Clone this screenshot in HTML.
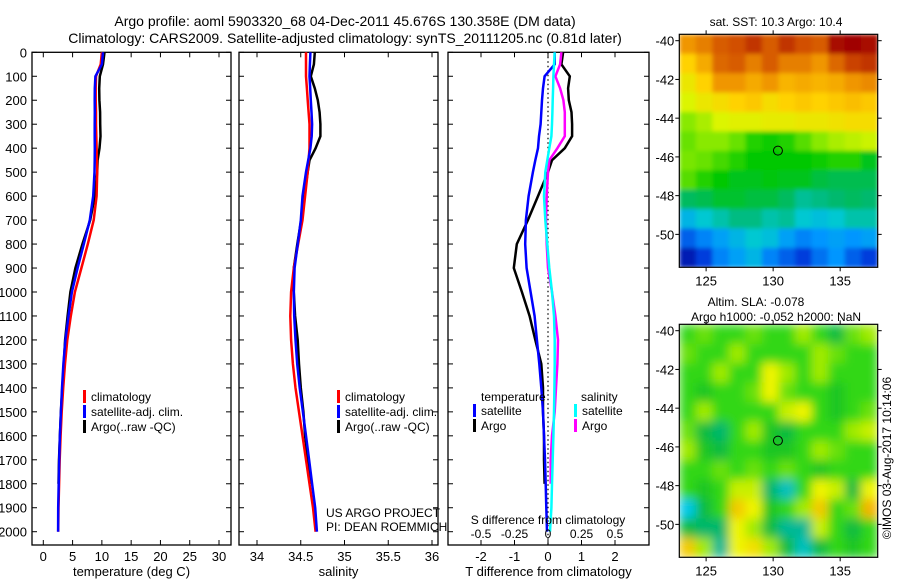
<!DOCTYPE html>
<html><head><meta charset="utf-8"><style>
html,body{margin:0;padding:0;background:#fff;}
svg{display:block;font-family:"Liberation Sans",sans-serif;}
</style></head><body>
<svg id="c" width="900" height="580" viewBox="0 0 900 580">
<defs>
<filter id="blurA" x="-5%" y="-5%" width="110%" height="110%"><feGaussianBlur stdDeviation="2.2" edgeMode="duplicate"/></filter>
<filter id="blurB" x="-5%" y="-5%" width="110%" height="110%"><feGaussianBlur stdDeviation="5" edgeMode="duplicate"/></filter>
<clipPath id="clipA"><rect x="679.3" y="34.3" width="198.4" height="233"/></clipPath>
<clipPath id="clipB"><rect x="679.3" y="324.3" width="198.4" height="233"/></clipPath>
</defs>
<rect width="900" height="580" fill="#fff"/>
<text x="345" y="26" font-size="14" text-anchor="middle">Argo profile: aoml 5903320_68 04-Dec-2011 45.676S 130.358E (DM data)</text>
<text x="345" y="43" font-size="14" text-anchor="middle">Climatology: CARS2009. Satellite-adjusted climatology: synTS_20111205.nc (0.81d later)</text>
<g id="g"></g>
</svg>
<script>
// ---- data ----
const depths = [0,50,100,150,200,250,300,350,400,450,500,600,700,800,900,1000,1100,1200,1300,1400,1500,1600,1700,1800,1900,2000];
const climT = [10.0,9.8,9.0,8.95,8.95,9.0,9.0,9.05,9.1,9.15,9.2,9.1,8.6,7.6,6.5,5.4,4.7,4.1,3.7,3.4,3.15,2.95,2.8,2.7,2.6,2.55];
const climS = [34.56,34.56,34.56,34.57,34.58,34.59,34.60,34.60,34.60,34.59,34.58,34.55,34.52,34.47,34.42,34.39,34.38,34.39,34.41,34.44,34.48,34.52,34.56,34.60,34.64,34.67];
const satTdiff = [0.2,0.2,-0.1,-0.15,-0.18,-0.2,-0.22,-0.27,-0.3,-0.38,-0.45,-0.58,-0.66,-0.68,-0.64,-0.52,-0.4,-0.33,-0.26,-0.2,-0.15,-0.12,-0.09,-0.07,-0.05,-0.03];
const argoTdiff = [0.45,0.4,0.65,0.6,0.62,0.7,0.72,0.72,0.5,0.12,0.0,-0.3,-0.6,-0.93,-1.02,-0.78,-0.55,-0.38,-0.2,-0.15,-0.15,-0.12,-0.12,-0.1,null,null];
const satSdiff = [0.05,0.045,0.04,0.038,0.035,0.033,0.03,0.025,0.01,-0.005,-0.02,-0.03,-0.02,-0.005,0.01,0.03,0.045,0.05,0.05,0.048,0.045,0.04,0.035,0.03,0.025,0.015];
const argoSdiff = [0.1,0.09,0.055,0.09,0.115,0.125,0.125,0.125,0.07,0.01,0,-0.01,-0.015,-0.01,0,0.03,0.055,0.075,0.07,0.06,0.05,0.03,0.02,0.02,null,null];
const depthTicks = [0,100,200,300,400,500,600,700,800,900,1000,1100,1200,1300,1400,1500,1600,1700,1800,1900,2000];
const tTicks = [0,5,10,15,20,25,30];
const sTicks = [34,34.5,35,35.5,36];
const tdTicks = [-2,-1,0,1,2];
const sdTicks = [-0.5,-0.25,0,0.25,0.5];
const sdTickLabels = ["-0.5","-0.25","0","0.25","0.5"];
const lonTicks = [125,130,135];
const latTicks = [-40,-42,-44,-46,-48,-50];
const argoLon = 130.358, argoLat = -45.676;
const sstGrid = [
[12.8,13.0,13.3,13.4,13.6,13.3,13.6,13.4,13.3,13.9,14.0,13.9],
[12.2,12.6,13.2,13.3,13.0,13.3,13.0,13.0,12.8,13.2,13.5,13.6],
[11.8,12.2,12.8,12.8,12.6,12.8,12.5,12.6,12.5,12.6,12.8,12.9],
[11.5,11.8,12.0,12.2,12.3,12.0,12.2,12.3,12.2,12.3,12.4,12.3],
[11.0,11.2,11.5,11.6,11.6,11.7,11.7,11.8,11.8,11.9,12.0,12.0],
[10.8,11.0,11.0,10.8,10.4,10.3,10.4,10.7,11.0,11.2,11.3,11.4],
[10.9,10.8,10.6,10.4,10.2,10.2,10.2,10.2,10.3,10.4,10.4,10.0],
[10.7,10.4,10.2,10.0,10.0,10.1,10.0,10.0,9.8,9.7,9.7,9.7],
[9.6,9.7,9.9,9.9,9.8,9.8,9.6,9.3,9.4,9.5,9.6,9.5],
[8.8,9.0,9.2,9.4,9.4,9.2,9.3,9.0,8.9,9.0,9.2,9.2],
[8.2,8.4,8.6,8.8,9.0,8.9,8.6,8.4,8.5,8.6,8.5,8.6],
[7.8,8.0,8.4,8.6,8.8,8.4,8.2,8.0,8.3,8.5,8.2,8.0]];
const slaGrid = [
[0,0.1,0,0,0.1,0,0,0.2,0,-0.2,0.1,0.2],
[0.1,0,0,0.2,0,0,0,0,0.2,0.1,0,0],
[0,0,0.2,0,0,0.4,0.2,0,0.2,0,0,0],
[0,-0.1,0,0,0.1,0.4,0.1,0,0,-0.1,0,0],
[0,0.2,0,0,0,0,0.3,0.4,0,-0.1,0,0.1],
[0.1,-0.2,-0.3,0,0.2,-0.1,-0.2,0,0,0,0.2,0.3],
[0.2,-0.1,-0.2,0,0,-0.1,-0.1,0,0.2,0.1,0,0],
[0,0,0.1,0,0.1,0,0.1,0,-0.1,0,0,0],
[0,-0.1,0,0.3,0.3,-0.3,-0.5,0,0.4,0.3,-0.2,0.4],
[-0.6,-0.2,0,0.6,0.4,-0.1,0,0.2,0.6,0,0.1,0.7],
[-0.2,-0.3,-0.3,0.4,0.2,-0.2,-0.4,-0.4,0.3,0,-0.2,0],
[0.6,0.2,-0.4,0.4,0.5,0.2,-0.2,-0.5,-0.2,0,-0.1,0]];

const NS="http://www.w3.org/2000/svg";
const G=document.getElementById('g');
function mk(tag,at,parent){const e=document.createElementNS(NS,tag);for(const k in at)e.setAttribute(k,at[k]);(parent||G).appendChild(e);return e;}
function txt(x,y,s,anchor,size,parent){const e=mk('text',{x:x,y:y,'font-size':size||12,'text-anchor':anchor||'start'},parent);e.textContent=s;return e;}

const y0=52.3, yk=0.2397, yBot=545;
const yD=d=>y0+d*yk;

function panel(name,x1,x2,ticks,xf,labels,ttl){
  const g=mk('g',{});
  
  
  mk('rect',{x:x1,y:y0,width:x2-x1,height:yBot-y0,fill:'none',stroke:'#000','stroke-width':1.3},g);
  depthTicks.forEach(d=>{const y=yD(d);mk('line',{x1:x1,x2:x1+5,y1:y,y2:y,stroke:'#000'},g);mk('line',{x1:x2-5,x2:x2,y1:y,y2:y,stroke:'#000'},g);});
  ticks.forEach((t,i)=>{const x=xf(t);mk('line',{x1:x,x2:x,y1:y0,y2:y0+5,stroke:'#000'},g);mk('line',{x1:x,x2:x,y1:yBot-5,y2:yBot,stroke:'#000'},g);
    const l=txt(x,561,labels?labels[i]:String(t),'middle',13,g);});
  const tl=txt((x1+x2)/2,576,ttl,'middle',13,g);
  
  
  return g;
}
function line(vals,xf,color,name,parent){
  let pts=[];
  vals.forEach((v,i)=>{if(v!==null&&!isNaN(v))pts.push(xf(v).toFixed(1)+','+yD(depths[i]).toFixed(1));});
  const p=mk('polyline',{points:pts.join(' '),fill:'none',stroke:color,'stroke-width':2.5,'stroke-linejoin':'miter'},parent);
  
  
}
function legend(x,y,items,parent){
  items.forEach((it,i)=>{mk('rect',{x:x,y:y+i*15-11,width:3,height:13,fill:it[0]},parent);const t=txt(x+8,y+i*15,it[1],'start',12,parent);
    
    });
}
depthTicks.forEach(d=>{const t=txt(27,yD(d)+5,String(d),'end',13);
  
  });

const xT=v=>43.3+v*5.857;
const p1=panel('temperature-panel',32,231,tTicks,xT,null,'temperature (deg C)');
const satT=climT.map((v,i)=>v+satTdiff[i]);
const argoT=climT.map((v,i)=>argoTdiff[i]===null?null:v+argoTdiff[i]);
line(argoT,xT,'#000','argo-temperature-line',p1);
line(climT,xT,'#f00','climatology-temperature-line',p1);
line(satT,xT,'#00f','satellite-temperature-line',p1);
legend(83,401,[['#f00','climatology'],['#00f','satellite-adj. clim.'],['#000','Argo(..raw -QC)']],p1);

const xS=v=>257+(v-34)*87.5;
const p2=panel('salinity-panel',239,438,sTicks,xS,null,'salinity');
const satS=climS.map((v,i)=>v+satSdiff[i]);
const argoS=climS.map((v,i)=>argoSdiff[i]===null?null:v+argoSdiff[i]);
line(argoS,xS,'#000','argo-salinity-line',p2);
line(climS,xS,'#f00','climatology-salinity-line',p2);
line(satS,xS,'#00f','satellite-salinity-line',p2);
legend(337,401,[['#f00','climatology'],['#00f','satellite-adj. clim.'],['#000','Argo(..raw -QC)']],p2);
txt(326,517,'US ARGO PROJECT','start',12,p2);
txt(326,531,'PI: DEAN ROEMMICH','start',12,p2);

const xTd=v=>548+v*33.5;
const xSd=v=>548+v*134;
const p3=panel('difference-panel',448,649,tdTicks,xTd,null,'T difference from climatology');
mk('line',{x1:548,x2:548,y1:y0,y2:yBot,stroke:'#000','stroke-dasharray':'1.5,3','stroke-width':1.2},p3);
line(argoTdiff,xTd,'#000','argo-t-diff-line',p3);
line(satTdiff,xTd,'#00f','satellite-t-diff-line',p3);
line(argoSdiff,xSd,'#f0f','argo-s-diff-line',p3);
line(satSdiff,xSd,'#0ff','satellite-s-diff-line',p3);
txt(481,401,'temperature','start',12,p3);
legend(473,415,[['#00f','satellite'],['#000','Argo']],p3);
txt(581,401,'salinity','start',12,p3);
legend(574,415,[['#0ff','satellite'],['#f0f','Argo']],p3);
txt(548,524,'S difference from climatology','middle',12,p3);
sdTicks.forEach((t,i)=>{const l=txt(xSd(t),538,sdTickLabels[i],'middle',12,p3);});

const mx1=679.3,mx2=877.7,lon1=123,lon2=137.8,lat1=-39.67,lat2=-51.7;
const xL=l=>mx1+(l-lon1)/(lon2-lon1)*(mx2-mx1);
function cmap(stops,v){
  if(v<=stops[0][0])return stops[0][1];
  for(let i=1;i<stops.length;i++){if(v<=stops[i][0]){const a=stops[i-1],b=stops[i],f=(v-a[0])/(b[0]-a[0]);
    return [0,1,2].map(k=>Math.round(a[1][k]+(b[1][k]-a[1][k])*f));}}
  return stops[stops.length-1][1];
}
function rgb(c){return 'rgb('+c.join(',')+')';}
const sstStops=[[7.6,[0,0,140]],[8.0,[0,60,220]],[8.5,[0,150,255]],[9.0,[0,200,210]],[9.5,[0,185,110]],[10.2,[0,200,0]],[10.9,[120,230,0]],[11.5,[220,245,0]],[12.2,[255,210,0]],[12.8,[240,150,0]],[13.4,[210,80,0]],[14.0,[160,0,0]]];
const slaStops=[[-1,[0,100,230]],[-0.6,[0,200,230]],[-0.35,[0,180,130]],[-0.15,[20,190,40]],[0,[50,215,20]],[0.2,[160,235,0]],[0.4,[240,245,0]],[0.7,[245,180,0]]];
function map(name,ty,ttlLines,grid,stops,filt,clip){
  const my1=ty,my2=ty+233;
  const yLat=l=>my1+(l-lat1)/(lat2-lat1)*(my2-my1);
  const g=mk('g',{});
  
  
  const cg=mk('g',{'clip-path':'url(#'+clip+')'},g);
  const hg=mk('g',{filter:'url(#'+filt+')'},cg);
  const nr=grid.length,nc=grid[0].length,cw=(mx2-mx1)/nc,ch=(my2-my1)/nr;
  grid.forEach((row,r)=>row.forEach((v,c)=>{
    const cell=mk('rect',{x:(mx1+c*cw).toFixed(2),y:(my1+r*ch).toFixed(2),width:(cw+0.6).toFixed(2),height:(ch+0.6).toFixed(2),fill:rgb(cmap(stops,v))},hg);
    
    
  }));
  mk('rect',{x:mx1,y:my1,width:mx2-mx1,height:my2-my1,fill:'none',stroke:'#000','stroke-width':1.2},g);
  lonTicks.forEach(l=>{const x=xL(l);mk('line',{x1:x,x2:x,y1:my1-4,y2:my1,stroke:'#000'},g);mk('line',{x1:x,x2:x,y1:my2,y2:my2+4,stroke:'#000'},g);
    const t=txt(x,my2+18,String(l),'middle',13,g);});
  latTicks.forEach(l=>{const y=yLat(l);mk('line',{x1:mx1-4,x2:mx1,y1:y,y2:y,stroke:'#000'},g);mk('line',{x1:mx2,x2:mx2+4,y1:y,y2:y,stroke:'#000'},g);
    const t=txt(mx1-5,y+5,String(l),'end',13,g);});
  const m=mk('circle',{cx:xL(argoLon),cy:yLat(argoLat),r:4.5,fill:'none',stroke:'#000','stroke-width':1},g);
  
  
  ttlLines.forEach(t=>{const e=txt(t[0],t[1],t[2],'middle',12,g);});
}
map('sst-map',34.3,[[776,26,'sat. SST: 10.3 Argo: 10.4']],sstGrid,sstStops,'blurA','clipA');
map('sla-map',324.3,[[756,306,'Altim. SLA: -0.078'],[776,321,'Argo h1000: -0.052 h2000: NaN']],slaGrid,slaStops,'blurB','clipB');
const cr=txt(0,0,'©IMOS 03-Aug-2017 10:14:06','middle',12);
cr.setAttribute('transform','translate(891,458) rotate(-90)');


</script>
</body></html>
